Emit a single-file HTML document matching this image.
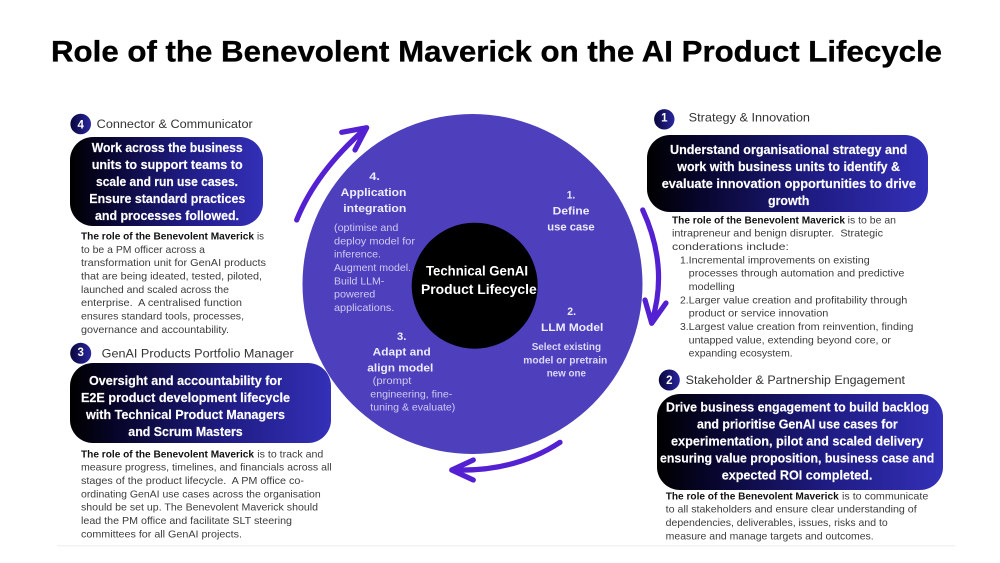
<!DOCTYPE html>
<html lang="en"><head><meta charset="utf-8"><title>Role of the Benevolent Maverick on the AI Product Lifecycle</title>
<style>
html,body{margin:0;padding:0;background:#fff;width:1000px;height:563px;overflow:hidden}
svg{display:block;filter:blur(.3px)}
text{font-family:"Liberation Sans",sans-serif;white-space:pre}
.t{font-size:30px;font-weight:700;fill:#000;stroke:#000;stroke-width:.35px}
.h{font-size:12.2px;fill:#333}
.w{font-size:12.9px;font-weight:700;fill:#fff;stroke:#fff;stroke-width:.15px}
.b{font-size:10.4px;fill:#3c3c3c}
.s{font-size:10.4px;font-weight:700;fill:#111}
.c{font-size:11.4px;font-weight:700;fill:#eeecfb}
.l{font-size:10.4px;fill:#cfcaf2}
.lb{font-size:10.4px;font-weight:700;fill:#dcd8f6}
.m{font-size:13.4px;font-weight:700;fill:#fff}
.n{font-size:11.5px;font-weight:700;fill:#fff;text-anchor:middle}
.a{fill:none;stroke:#5320d2;stroke-width:5.2;stroke-linecap:round;stroke-linejoin:round}
</style></head><body>
<svg width="1000" height="563" viewBox="0 0 1000 563" xmlns="http://www.w3.org/2000/svg">
<defs>
<linearGradient id="g" x1="0" y1="0" x2="1" y2="0"><stop offset="0" stop-color="#000"/><stop offset=".18" stop-color="#07052a"/><stop offset=".6" stop-color="#1f1c85"/><stop offset="1" stop-color="#3430b8"/></linearGradient>
<linearGradient id="d" x1="0" y1="0" x2="1" y2="0"><stop offset="0" stop-color="#08063a"/><stop offset="1" stop-color="#2a26a0"/></linearGradient>
</defs>
<rect x="57" y="545" width="898" height="1.5" fill="#f3f3f3"/>
<text class="t" x="51" y="61.5" textLength="891" lengthAdjust="spacingAndGlyphs">Role of the Benevolent Maverick on the AI Product Lifecycle</text>

<circle cx="472.5" cy="284" r="170" fill="#4e3fbd"/>
<circle cx="474.7" cy="285.7" r="63" fill="#000"/>

<path class="a" d="M296.7 220Q316 172 365 129"/>
<path class="a" d="M341.7 132.3L366.7 127.7L355 150"/>
<path class="a" d="M642.7 210Q669 267 651.7 322"/>
<path class="a" d="M645 300L651.7 323.3L666 303"/>
<path class="a" d="M560 442.3Q515 472 453 470"/>
<path class="a" d="M473.3 460L451.7 470L473.3 480"/>

<text class="m" x="426" y="275.3" textLength="102" lengthAdjust="spacingAndGlyphs">Technical GenAI</text>
<text class="m" x="421" y="294" textLength="115.7" lengthAdjust="spacingAndGlyphs">Product Lifecycle</text>

<text class="c" x="369.3" y="180" textLength="10.7" lengthAdjust="spacingAndGlyphs">4.</text>
<text class="c" x="340.7" y="196" textLength="65.7" lengthAdjust="spacingAndGlyphs">Application</text>
<text class="c" x="343.3" y="212" textLength="63" lengthAdjust="spacingAndGlyphs">integration</text>
<text class="l" x="334" y="231" textLength="64.3" lengthAdjust="spacingAndGlyphs">(optimise and</text>
<text class="l" x="334" y="244.3" textLength="81" lengthAdjust="spacingAndGlyphs">deploy model for</text>
<text class="l" x="334" y="257.6" textLength="47" lengthAdjust="spacingAndGlyphs">inference.</text>
<text class="l" x="334" y="271" textLength="77" lengthAdjust="spacingAndGlyphs">Augment model.</text>
<text class="l" x="334" y="284.3" textLength="50.3" lengthAdjust="spacingAndGlyphs">Build LLM-</text>
<text class="l" x="334" y="297.6" textLength="41.3" lengthAdjust="spacingAndGlyphs">powered</text>
<text class="l" x="334" y="311" textLength="60.3" lengthAdjust="spacingAndGlyphs">applications.</text>

<text class="c" x="566.7" y="198.7" textLength="8.5" lengthAdjust="spacingAndGlyphs">1.</text>
<text class="c" x="552.7" y="214.7" textLength="36.7" lengthAdjust="spacingAndGlyphs">Define</text>
<text class="c" x="547.3" y="230.7" textLength="47.3" lengthAdjust="spacingAndGlyphs">use case</text>

<text class="c" x="567.3" y="315" textLength="8.7" lengthAdjust="spacingAndGlyphs">2.</text>
<text class="c" x="541" y="331" textLength="62.3" lengthAdjust="spacingAndGlyphs">LLM Model</text>
<text class="lb" x="531.7" y="350" textLength="69.3" lengthAdjust="spacingAndGlyphs">Select existing</text>
<text class="lb" x="523.3" y="363.3" textLength="84" lengthAdjust="spacingAndGlyphs">model or pretrain</text>
<text class="lb" x="546.7" y="376.6" textLength="39.3" lengthAdjust="spacingAndGlyphs">new one</text>

<text class="c" x="397" y="340" textLength="9.3" lengthAdjust="spacingAndGlyphs">3.</text>
<text class="c" x="372.7" y="355.3" textLength="58" lengthAdjust="spacingAndGlyphs">Adapt and</text>
<text class="c" x="367.3" y="371.7" textLength="66" lengthAdjust="spacingAndGlyphs">align model</text>
<text class="l" x="372.7" y="384" textLength="38.7" lengthAdjust="spacingAndGlyphs">(prompt</text>
<text class="l" x="370.3" y="397.3" textLength="82" lengthAdjust="spacingAndGlyphs">engineering, fine-</text>
<text class="l" x="370.3" y="410.7" textLength="85" lengthAdjust="spacingAndGlyphs">tuning &amp; evaluate)</text>

<!-- Section 4 -->
<circle cx="80.7" cy="124" r="10.3" fill="url(#d)"/>
<text class="n" x="80.7" y="128.3">4</text>
<text class="h" x="96.7" y="128" textLength="156" lengthAdjust="spacingAndGlyphs">Connector &amp; Communicator</text>
<rect x="70" y="137" width="193" height="89" rx="23" fill="url(#g)"/>
<text class="w" x="91.7" y="152" textLength="151" lengthAdjust="spacingAndGlyphs">Work across the business</text>
<text class="w" x="91.7" y="169" textLength="151" lengthAdjust="spacingAndGlyphs">units to support teams to</text>
<text class="w" x="96" y="186" textLength="142" lengthAdjust="spacingAndGlyphs">scale and run use cases.</text>
<text class="w" x="89.3" y="203" textLength="156" lengthAdjust="spacingAndGlyphs">Ensure standard practices</text>
<text class="w" x="95" y="220" textLength="144" lengthAdjust="spacingAndGlyphs">and processes followed.</text>
<text class="s" x="81" y="239.5" textLength="173" lengthAdjust="spacingAndGlyphs">The role of the Benevolent Maverick</text>
<text class="b" x="257" y="239.5" textLength="7" lengthAdjust="spacingAndGlyphs">is</text>
<text class="b" x="81" y="252.8" textLength="124" lengthAdjust="spacingAndGlyphs">to be a PM officer across a</text>
<text class="b" x="81" y="266" textLength="185" lengthAdjust="spacingAndGlyphs">transformation unit for GenAI products</text>
<text class="b" x="81" y="279.5" textLength="181" lengthAdjust="spacingAndGlyphs">that are being ideated, tested, piloted,</text>
<text class="b" x="81" y="292.8" textLength="148" lengthAdjust="spacingAndGlyphs">launched and scaled across the</text>
<text class="b" x="81" y="306" textLength="161" lengthAdjust="spacingAndGlyphs">enterprise.  A centralised function</text>
<text class="b" x="81" y="319.5" textLength="163" lengthAdjust="spacingAndGlyphs">ensures standard tools, processes,</text>
<text class="b" x="81" y="332.8" textLength="148" lengthAdjust="spacingAndGlyphs">governance and accountability.</text>

<!-- Section 3 -->
<circle cx="80.7" cy="353.3" r="10.5" fill="url(#d)"/>
<text class="n" x="80.7" y="356">3</text>
<text class="h" x="101.7" y="357.7" textLength="192" lengthAdjust="spacingAndGlyphs">GenAI Products Portfolio Manager</text>
<rect x="70" y="363" width="261" height="80" rx="23" fill="url(#g)"/>
<text class="w" x="89" y="385" textLength="193" lengthAdjust="spacingAndGlyphs">Oversight and accountability for</text>
<text class="w" x="81" y="402" textLength="209" lengthAdjust="spacingAndGlyphs">E2E product development lifecycle</text>
<text class="w" x="86" y="419" textLength="199" lengthAdjust="spacingAndGlyphs">with Technical Product Managers</text>
<text class="w" x="128.3" y="436" textLength="114.4" lengthAdjust="spacingAndGlyphs">and Scrum Masters</text>
<text class="s" x="81" y="457.3" textLength="173" lengthAdjust="spacingAndGlyphs">The role of the Benevolent Maverick</text>
<text class="b" x="257.3" y="457.3" textLength="66" lengthAdjust="spacingAndGlyphs">is to track and</text>
<text class="b" x="81" y="470.6" textLength="250.7" lengthAdjust="spacingAndGlyphs">measure progress, timelines, and financials across all</text>
<text class="b" x="81" y="484" textLength="223" lengthAdjust="spacingAndGlyphs">stages of the product lifecycle.  A PM office co-</text>
<text class="b" x="81" y="497.3" textLength="239.7" lengthAdjust="spacingAndGlyphs">ordinating GenAI use cases across the organisation</text>
<text class="b" x="81" y="510.6" textLength="237" lengthAdjust="spacingAndGlyphs">should be set up. The Benevolent Maverick should</text>
<text class="b" x="81" y="524" textLength="211" lengthAdjust="spacingAndGlyphs">lead the PM office and facilitate SLT steering</text>
<text class="b" x="81" y="537.3" textLength="161" lengthAdjust="spacingAndGlyphs">committees for all GenAI projects.</text>

<!-- Section 1 -->
<circle cx="664.3" cy="119.3" r="10.2" fill="url(#d)"/>
<text class="n" x="664.3" y="121.5">1</text>
<text class="h" x="688.7" y="121.7" textLength="121.3" lengthAdjust="spacingAndGlyphs">Strategy &amp; Innovation</text>
<rect x="647" y="135" width="281" height="77" rx="23" fill="url(#g)"/>
<text class="w" x="670" y="154" textLength="237.3" lengthAdjust="spacingAndGlyphs">Understand organisational strategy and</text>
<text class="w" x="677.3" y="171" textLength="222.7" lengthAdjust="spacingAndGlyphs">work with business units to identify &amp;</text>
<text class="w" x="661.7" y="188" textLength="254.3" lengthAdjust="spacingAndGlyphs">evaluate innovation opportunities to drive</text>
<text class="w" x="768" y="205" textLength="41.3" lengthAdjust="spacingAndGlyphs">growth</text>
<text class="s" x="672" y="223.3" textLength="173" lengthAdjust="spacingAndGlyphs">The role of the Benevolent Maverick</text>
<text class="b" x="847.7" y="223.3" textLength="48.3" lengthAdjust="spacingAndGlyphs">is to be an</text>
<text class="b" x="672" y="236.6" textLength="211" lengthAdjust="spacingAndGlyphs">intrapreneur and benign disrupter.  Strategic</text>
<text class="b" x="672" y="250" textLength="117" lengthAdjust="spacingAndGlyphs">conderations include:</text>
<text class="b" x="680" y="263.3">1.</text>
<text class="b" x="688.7" y="263.3" textLength="181" lengthAdjust="spacingAndGlyphs">Incremental improvements on existing</text>
<text class="b" x="688.7" y="276.6" textLength="215.7" lengthAdjust="spacingAndGlyphs">processes through automation and predictive</text>
<text class="b" x="688.7" y="290" textLength="46" lengthAdjust="spacingAndGlyphs">modelling</text>
<text class="b" x="680" y="303.3">2.</text>
<text class="b" x="688.7" y="303.3" textLength="218.7" lengthAdjust="spacingAndGlyphs">Larger value creation and profitability through</text>
<text class="b" x="688.7" y="316.6" textLength="139.7" lengthAdjust="spacingAndGlyphs">product or service innovation</text>
<text class="b" x="680" y="330">3.</text>
<text class="b" x="688.7" y="330" textLength="224.7" lengthAdjust="spacingAndGlyphs">Largest value creation from reinvention, finding</text>
<text class="b" x="688.7" y="343.3" textLength="202.3" lengthAdjust="spacingAndGlyphs">untapped value, extending beyond core, or</text>
<text class="b" x="688.7" y="356.6" textLength="104" lengthAdjust="spacingAndGlyphs">expanding ecosystem.</text>

<!-- Section 2 -->
<circle cx="669.3" cy="380" r="10.5" fill="url(#d)"/>
<text class="n" x="669.3" y="384.2">2</text>
<text class="h" x="685.7" y="384" textLength="219.3" lengthAdjust="spacingAndGlyphs">Stakeholder &amp; Partnership Engagement</text>
<rect x="657" y="394" width="286" height="96" rx="23" fill="url(#g)"/>
<text class="w" x="666" y="411.7" textLength="263" lengthAdjust="spacingAndGlyphs">Drive business engagement to build backlog</text>
<text class="w" x="697" y="428.7" textLength="200.7" lengthAdjust="spacingAndGlyphs">and prioritise GenAI use cases for</text>
<text class="w" x="671" y="445.7" textLength="252.3" lengthAdjust="spacingAndGlyphs">experimentation, pilot and scaled delivery</text>
<text class="w" x="660" y="462.7" textLength="274.3" lengthAdjust="spacingAndGlyphs">ensuring value proposition, business case and</text>
<text class="w" x="721.7" y="479.7" textLength="150.7" lengthAdjust="spacingAndGlyphs">expected ROI completed.</text>
<text class="s" x="665.7" y="499.3" textLength="173" lengthAdjust="spacingAndGlyphs">The role of the Benevolent Maverick</text>
<text class="b" x="842" y="499.3" textLength="86.3" lengthAdjust="spacingAndGlyphs">is to communicate</text>
<text class="b" x="665.7" y="512.6" textLength="251" lengthAdjust="spacingAndGlyphs">to all stakeholders and ensure clear understanding of</text>
<text class="b" x="665.7" y="526" textLength="222" lengthAdjust="spacingAndGlyphs">dependencies, deliverables, issues, risks and to</text>
<text class="b" x="665.7" y="539.3" textLength="208" lengthAdjust="spacingAndGlyphs">measure and manage targets and outcomes.</text>
</svg>
</body></html>
